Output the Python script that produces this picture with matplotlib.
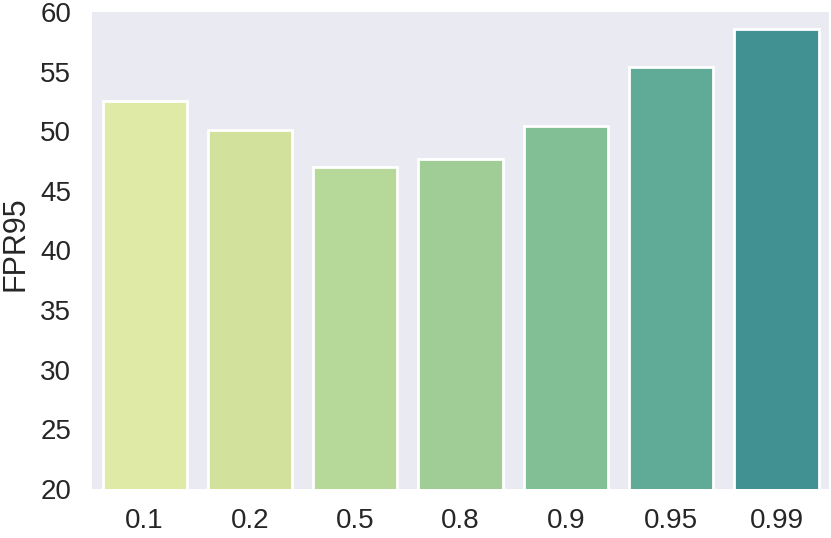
import matplotlib
matplotlib.use("Agg")
import matplotlib.pyplot as plt

categories = ["0.1", "0.2", "0.5", "0.8", "0.9", "0.95", "0.99"]
fpr95 = [52.5, 50.1, 47.0, 47.7, 50.4, 55.4, 58.6]
yticks = [20, 25, 30, 35, 40, 45, 50, 55, 60]

colors = ["#dfeaa7", "#d2e29d", "#b6d999", "#a0cd95", "#82bf95", "#5fab97", "#419193"]

plt.rcParams['font.family'] = ['Liberation Sans', 'DejaVu Sans']

fig = plt.figure(figsize=(8.31, 5.38), dpi=100)
ax = fig.add_axes([0.1107, 0.0911, 0.887, 0.8866])
ax.set_facecolor("#EAEAF2")
x = list(range(len(categories)))
ax.bar(x, fpr95, width=0.8, color=colors, edgecolor="white", linewidth=2, zorder=2)
ax.set_xlim(-0.5, len(categories) - 0.5)
ax.set_ylim(20, 60)
ax.set_yticks(yticks)
ax.set_xticks(x)
ax.set_xticklabels(categories)
ax.tick_params(axis="both", length=0, labelsize=20, colors="#262626")
ax.tick_params(axis="x", pad=14)
ax.tick_params(axis="y", pad=15)
ax.set_ylabel("FPR95", fontsize=22, color="#262626")
ax.yaxis.set_label_coords(-0.084, 0.515)
for s in ax.spines.values():
    s.set_visible(False)
ax.grid(False)
fig.savefig("out.png", dpi=100)
